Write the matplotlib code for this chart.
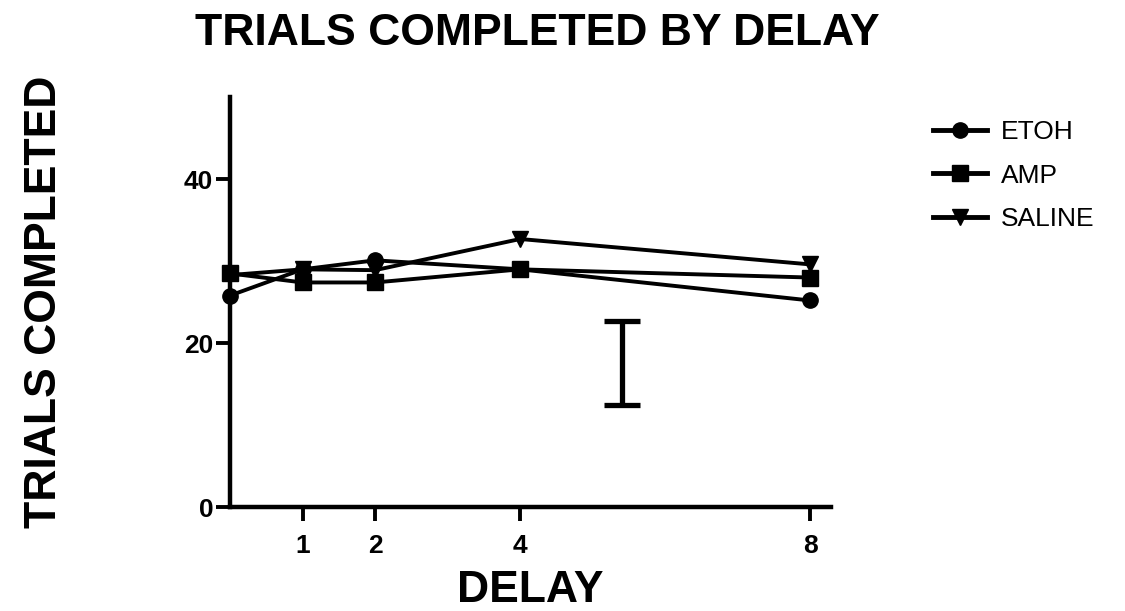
import matplotlib.pyplot as plt

# delay values and trials completed per group
delay = [0, 1, 2, 4, 8]
etoh = [25.8, 29.0, 30.1, 29.0, 25.2]
amp = [28.5, 27.4, 27.4, 29.0, 28.0]
saline = [28.3, 29.0, 28.9, 32.7, 29.6]

# representative error bar
err_x = [5.4]
err_mid = [17.55]
err_half = [5.15]

plt.rcParams['font.family'] = ['Liberation Sans', 'DejaVu Sans']

fig = plt.figure(figsize=(11.25, 6.11), dpi=100)
ax = fig.add_axes([0.2044, 0.170, 0.534, 0.671])

lw = 2.8
ax.plot(delay, etoh, color='black', lw=lw, marker='o', ms=11, label='ETOH', clip_on=False)
ax.plot(delay, amp, color='black', lw=lw, marker='s', ms=11, label='AMP', clip_on=False)
ax.plot(delay, saline, color='black', lw=lw, marker='v', ms=11, label='SALINE', clip_on=False)

ax.errorbar(err_x, err_mid, yerr=err_half, fmt='none', ecolor='black',
            elinewidth=3.8, capsize=13, capthick=3.8)

ax.set_xlim(0, 8.28)
ax.set_ylim(0, 50)
ax.set_xticks([1, 2, 4, 8])
ax.set_yticks([0, 20, 40])
ax.tick_params(axis='both', width=2.8, length=10, labelsize=19, direction='out')
ax.tick_params(axis='x', pad=9)
ax.tick_params(axis='y', pad=2)
for lab in ax.get_xticklabels() + ax.get_yticklabels():
    lab.set_fontweight('bold')

for side in ['top', 'right']:
    ax.spines[side].set_visible(False)
for side in ['left', 'bottom']:
    ax.spines[side].set_linewidth(3.2)

ax.set_xlabel('DELAY', fontsize=32, fontweight='bold', labelpad=9)
ax.set_ylabel('TRIALS COMPLETED', fontsize=32, fontweight='bold', labelpad=86)
fig.text(0.478, 0.945, 'TRIALS COMPLETED BY DELAY', fontsize=32, fontweight='bold',
         ha='center', va='center')

leg = ax.legend(loc='upper left', bbox_to_anchor=(0.829, 0.804), bbox_transform=fig.transFigure,
                frameon=False, fontsize=19, handlelength=2.05, labelspacing=0.75,
                handletextpad=0.55, borderpad=0, borderaxespad=0)
for line in leg.get_lines():
    line.set_linewidth(3.5)

fig.savefig('out.png', dpi=100)
